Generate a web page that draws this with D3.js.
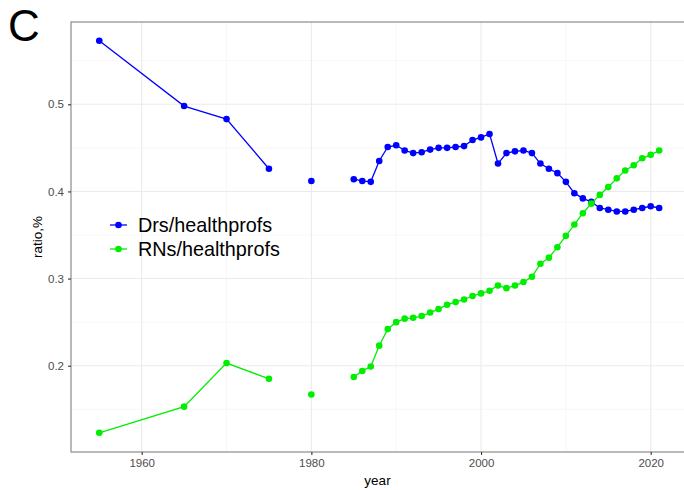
<!DOCTYPE html>
<html>
<head>
<meta charset="utf-8">
<script src="https://cdn.jsdelivr.net/npm/d3@7"></script>
<style>
  body { margin: 0; background: #fff; }
  svg { font-family: "Liberation Sans", Arial, sans-serif; }
</style>
</head>
<body>
<svg width="684" height="490"></svg>
<script>
// years; null values break the line (no data in between)
var years = [1955, 1965, 1970, 1975, 1976, 1980, 1981,
  1985, 1986, 1987, 1988, 1989, 1990, 1991, 1992, 1993, 1994, 1995, 1996, 1997, 1998, 1999,
  2000, 2001, 2002, 2003, 2004, 2005, 2006, 2007, 2008, 2009, 2010, 2011, 2012, 2013, 2014,
  2015, 2016, 2017, 2018, 2019, 2020, 2021];

var drs = [0.573, 0.498, 0.483, 0.426, null, 0.412, null,
  0.414, 0.412, 0.411, 0.435, 0.451, 0.453, 0.447, 0.444, 0.445, 0.448, 0.450, 0.450, 0.451, 0.452, 0.459,
  0.462, 0.466, 0.432, 0.444, 0.446, 0.447, 0.444, 0.432, 0.426, 0.421, 0.411, 0.398, 0.392, 0.388, 0.381,
  0.379, 0.377, 0.377, 0.379, 0.381, 0.383, 0.381];

var rns = [0.123, 0.153, 0.203, 0.185, null, 0.167, null,
  0.187, 0.194, 0.199, 0.223, 0.242, 0.250, 0.254, 0.255, 0.257, 0.261, 0.265, 0.270, 0.273, 0.276, 0.280,
  0.283, 0.286, 0.292, 0.289, 0.292, 0.296, 0.302, 0.317, 0.324, 0.336, 0.349, 0.362, 0.375, 0.386, 0.396,
  0.405, 0.415, 0.424, 0.430, 0.438, 0.442, 0.447];

var seriesNames = ["Drs/healthprofs", "RNs/healthprofs"];
var seriesColors = ["#0000ff", "#00ee00"];
var xTicks = [1960, 1980, 2000, 2020];
var xMinor = [1970, 1990, 2010];
var yTicks = [0.2, 0.3, 0.4, 0.5];
var yMinor = [0.15, 0.25, 0.35, 0.45, 0.55];

var pLeft = 71, pTop = 22, pRight = 684, pBottom = 452;

var x = d3.scaleLinear().domain([1960, 2020]).range([141.7, 650.7]);
var y = d3.scaleLinear().domain([0.2, 0.5]).range([365.7, 104.3]);

var svg = d3.select("svg");

// grid
var grid = svg.append("g");
grid.selectAll(".xmin").data(xMinor).enter().append("line")
  .attr("x1", d => x(d)).attr("x2", d => x(d))
  .attr("y1", pTop).attr("y2", pBottom)
  .attr("stroke", "#f2f2f2").attr("stroke-width", 0.6);
grid.selectAll(".ymin").data(yMinor).enter().append("line")
  .attr("y1", d => y(d)).attr("y2", d => y(d))
  .attr("x1", pLeft).attr("x2", pRight)
  .attr("stroke", "#f2f2f2").attr("stroke-width", 0.6);
grid.selectAll(".xmaj").data(xTicks).enter().append("line")
  .attr("x1", d => x(d)).attr("x2", d => x(d))
  .attr("y1", pTop).attr("y2", pBottom)
  .attr("stroke", "#ebebeb").attr("stroke-width", 1.1);
grid.selectAll(".ymaj").data(yTicks).enter().append("line")
  .attr("y1", d => y(d)).attr("y2", d => y(d))
  .attr("x1", pLeft).attr("x2", pRight)
  .attr("stroke", "#ebebeb").attr("stroke-width", 1.1);

// panel border
svg.append("rect")
  .attr("x", pLeft).attr("y", pTop)
  .attr("width", pRight - pLeft + 5).attr("height", pBottom - pTop)
  .attr("fill", "none").attr("stroke", "#8c8c8c").attr("stroke-width", 1.2);

// axes
var xAxis = svg.append("g")
  .attr("transform", "translate(0," + pBottom + ")")
  .call(d3.axisBottom(x).tickValues(xTicks).tickFormat(d3.format("d")).tickSize(3).tickPadding(4));
var yAxis = svg.append("g")
  .attr("transform", "translate(" + pLeft + ",0)")
  .call(d3.axisLeft(y).tickValues(yTicks).tickFormat(d3.format(".1f")).tickSize(3).tickPadding(4));
[xAxis, yAxis].forEach(function (a) {
  a.select(".domain").remove();
  a.selectAll(".tick line").attr("stroke", "#333").attr("stroke-width", 1.1);
  a.selectAll(".tick text").attr("fill", "#4d4d4d").style("font-size", "11.5px")
    .style("font-family", "'Liberation Sans', Arial, sans-serif");
});

// series
var allSeries = [drs, rns];
var line = d3.line()
  .defined(d => d.v != null)
  .x(d => x(d.year))
  .y(d => y(d.v));

allSeries.forEach(function (vals, i) {
  var pts = years.map((yr, j) => ({ year: yr, v: vals[j] }));
  svg.append("path")
    .datum(pts)
    .attr("fill", "none")
    .attr("stroke", seriesColors[i])
    .attr("stroke-width", 1.3)
    .attr("d", line);
  svg.append("g").selectAll("circle")
    .data(pts.filter(d => d.v != null))
    .enter().append("circle")
    .attr("cx", d => x(d.year))
    .attr("cy", d => y(d.v))
    .attr("r", 3.3)
    .attr("fill", seriesColors[i]);
});

// legend
var legend = svg.append("g").attr("transform", "translate(110,225)");
seriesNames.forEach(function (name, i) {
  var g = legend.append("g").attr("transform", "translate(0," + i * 24 + ")");
  g.append("line").attr("x1", 0).attr("x2", 17).attr("y1", 0).attr("y2", 0)
    .attr("stroke", seriesColors[i]).attr("stroke-width", 1.3);
  g.append("circle").attr("cx", 8.5).attr("cy", 0).attr("r", 3.3).attr("fill", seriesColors[i]);
  g.append("text").attr("x", 28).attr("y", 7)
    .style("font-size", "19.8px").attr("fill", "#000").text(name);
});

// axis titles
svg.append("text")
  .attr("x", (pLeft + pRight) / 2).attr("y", 485)
  .attr("text-anchor", "middle")
  .style("font-size", "13.5px").attr("fill", "#000")
  .text("year");
svg.append("text")
  .attr("transform", "translate(42," + ((pTop + pBottom) / 2) + ") rotate(-90)")
  .attr("text-anchor", "middle")
  .style("font-size", "13.5px").attr("fill", "#000")
  .text("ratio,%");

// panel tag
svg.append("text")
  .attr("x", 8).attr("y", 41)
  .style("font-size", "44px").attr("fill", "#000")
  .text("C");
</script>
</body>
</html>
